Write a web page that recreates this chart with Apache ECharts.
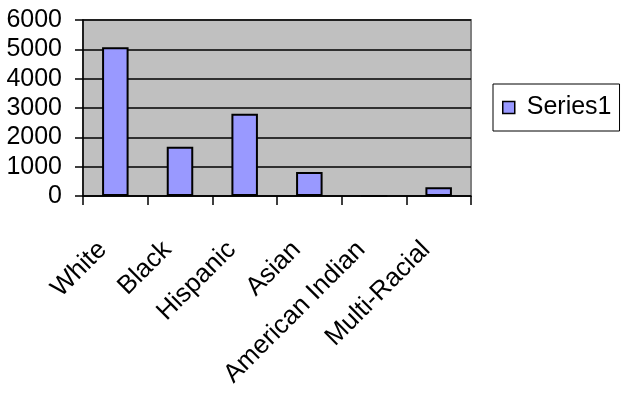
<!DOCTYPE html>
<html><head><meta charset="utf-8">
<script src="https://cdn.jsdelivr.net/npm/echarts@6/dist/echarts.min.js"></script>
<style>html,body{margin:0;padding:0;background:#fff}#c{width:625px;height:395px}</style>
</head><body><div id="c"></div>
<script>
var categories = ["White", "Black", "Hispanic", "Asian", "American Indian", "Multi-Racial"];
var series1 = [5070, 1680, 2800, 820, 0, 300];
var yTicks = [0, 1000, 2000, 3000, 4000, 5000, 6000];
var seriesName = "Series1";

var chart = echarts.init(document.getElementById('c'), null, {renderer: 'canvas'});
var font = 'Liberation Sans, Arial, sans-serif';
chart.setOption({
  animation: false,
  grid: {left: 83, right: 154, top: 20, bottom: 199, show: true, backgroundColor: '#c0c0c0', borderColor: '#808080', borderWidth: 2},
  legend: {
    data: [seriesName], left: 493, top: 84, orient: 'vertical',
    padding: [11, 8, 11, 9], borderColor: '#000', borderWidth: 1, backgroundColor: '#fff',
    itemWidth: 12, itemHeight: 12, icon: 'rect',
    itemStyle: {borderColor: '#000', borderWidth: 1.5},
    textStyle: {fontFamily: font, fontSize: 25, color: '#000', padding: [0, 0, 0, 7]}
  },
  xAxis: {
    type: 'category', data: categories, boundaryGap: true,
    axisLine: {lineStyle: {color: '#000', width: 1.5}},
    axisTick: {show: true, length: 9, alignWithLabel: false, lineStyle: {color: '#000', width: 1.5}},
    axisLabel: {rotate: 45, interval: 0, margin: 37, padding: [0, 18, 0, 0], fontFamily: font, fontSize: 26, color: '#000'}
  },
  yAxis: {
    type: 'value', min: yTicks[0], max: yTicks[yTicks.length - 1], interval: 1000,
    axisLine: {show: true, lineStyle: {color: '#000', width: 1.5}},
    axisTick: {show: true, length: 8, lineStyle: {color: '#000', width: 1.5}},
    axisLabel: {margin: 21, fontFamily: font, fontSize: 25, color: '#000', formatter: function (v) { return String(v); }},
    splitLine: {show: true, lineStyle: {color: '#000', width: 1.5}}
  },
  series: [{
    name: seriesName, type: 'bar', data: series1, barWidth: '41%',
    itemStyle: {color: '#9999ff', borderColor: '#000', borderWidth: 2}
  }]
});
</script></body></html>
